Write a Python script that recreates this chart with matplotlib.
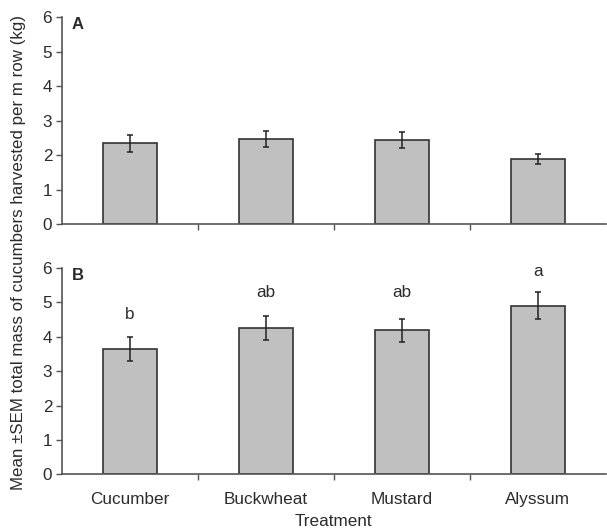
import numpy as np
import matplotlib.pyplot as plt

plt.rcParams['font.family'] = ['Liberation Sans', 'DejaVu Sans']

treatments = ["Cucumber", "Buckwheat", "Mustard", "Alyssum"]
mass_a = [2.34, 2.47, 2.43, 1.88]
sem_a = [0.24, 0.24, 0.23, 0.14]
mass_b = [3.65, 4.26, 4.19, 4.91]
sem_b = [0.34, 0.35, 0.33, 0.40]
letters_b = ["b", "ab", "ab", "a"]
letter_y = [4.64, 5.28, 5.28, 5.90]

ink = "#2b2b2b"
fs = 12.3
fig = plt.figure(figsize=(6.07, 5.31), dpi=100)
ax_a = fig.add_axes([0.102, 0.578, 0.896, 0.390])
ax_b = fig.add_axes([0.102, 0.107, 0.896, 0.388])

x = np.arange(len(treatments))


def draw_panel(ax, vals, errs, tag):
    ax.bar(x, vals, width=0.4, color="#c0c0c0", edgecolor="#333333", linewidth=1.2, zorder=2)
    ax.errorbar(x, vals, yerr=errs, fmt="none", ecolor="#222222", elinewidth=1.1,
                capsize=2.5, capthick=1.1, zorder=3)
    ax.set_xlim(-0.5, 3.5)
    ax.set_ylim(0, 6)
    ax.set_yticks(range(7))
    ax.set_xticks(x)
    ax.set_xticks([0.5, 1.5, 2.5], minor=True)
    ax.tick_params(axis="x", which="major", length=0, labelsize=fs, colors=ink, pad=13)
    ax.tick_params(axis="x", which="minor", length=4, width=1, color="#555555", direction="out")
    ax.tick_params(axis="y", length=4, width=1, color="#555555", labelsize=fs, labelcolor=ink, pad=3)
    for side in ["top", "right"]:
        ax.spines[side].set_visible(False)
    for side in ["left", "bottom"]:
        ax.spines[side].set_color("#555555")
        ax.spines[side].set_linewidth(1.2)
    ax.text(0.018, 1.0, tag, transform=ax.transAxes, fontsize=12, fontweight="bold",
            color=ink, va="top", ha="left")


draw_panel(ax_a, mass_a, sem_a, "A")
ax_a.set_xticklabels([])
draw_panel(ax_b, mass_b, sem_b, "B")
ax_b.set_xticklabels(treatments)

for xi, ly, lab in zip(x, letter_y, letters_b):
    ax_b.text(xi, ly, lab, ha="center", va="center", fontsize=fs, color=ink)

ax_b.set_xlabel("Treatment", fontsize=fs, color=ink, labelpad=5)
fig.text(0.03, 0.525, "Mean \u00b1SEM total mass of cucumbers harvested per m row (kg)",
         rotation=90, ha="center", va="center", fontsize=12.2, color=ink)

fig.savefig("out.png", dpi=100)
